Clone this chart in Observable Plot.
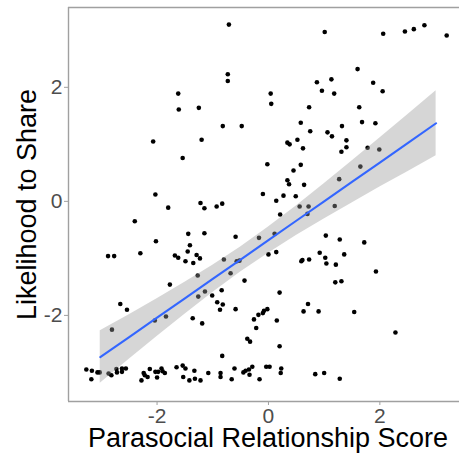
<!DOCTYPE html>
<html>
<head>
<meta charset="utf-8">
<script src="https://cdn.jsdelivr.net/npm/d3@7"></script>
<script src="https://cdn.jsdelivr.net/npm/@observablehq/plot@0.6"></script>
<style>
  html, body { margin: 0; padding: 0; background: white; }
</style>
</head>
<body>
<div id="chart"></div>
<script>
// Parasocial Relationship Score (x) for each respondent
const parasocialScore = [
  -0.71,-0.73,-0.73,-1.62,-1.61,-1.25,-0.82,-0.48,-2.07,-1.20,-1.54,-2.03,
  1.01,2.06,2.45,2.61,2.80,3.20,1.60,0.87,1.13,1.88,0.96,1.18,2.05,0.04,0.05,
  0.73,1.63,0.58,1.68,1.92,0.75,1.32,1.06,1.14,0.52,0.34,0.38,0.62,1.40,1.40,
  1.31,1.78,1.99,-0.02,0.58,0.45,1.65,0.34,0.37,0.64,1.27,-0.10,0.27,0.49,0.14,
  -1.80,-1.22,-1.15,-0.93,-0.83,-2.40,-1.44,-1.15,-2.02,-0.59,-1.41,-1.45,-1.29,
  -1.23,-1.68,-1.62,-1.49,-1.35,-2.88,-2.77,-2.30,-0.80,-0.57,-0.52,-0.17,-1.27,
  -0.68,-0.43,-1.77,-0.84,-1.14,-1.01,-1.26,-0.92,-0.82,-0.87,-0.59,-2.66,-2.54,
  -1.84,-2.04,-1.36,-1.19,-0.26,-0.18,-0.22,-2.81,-0.38,-0.33,-0.83,
  -3.27,-3.17,-3.18,-3.07,-3.03,-2.87,-2.82,-2.73,-2.72,-2.63,-2.63,-2.56,-2.28,
  -2.24,-2.22,-2.17,-2.13,-2.03,-2.00,-1.98,-1.92,-1.90,-1.86,-1.65,-1.54,-1.53,
  -1.49,-1.42,-1.33,-1.32,-1.22,-1.08,-0.86,-0.86,-0.66,-0.61,-0.45,-0.41,-0.35,
  -0.34,-0.29,-0.16,
  0.56,0.72,1.19,0.70,0.21,0.11,1.03,1.28,1.72,0.00,0.14,0.92,1.36,1.02,0.59,
  0.61,0.73,1.04,1.21,1.93,0.20,1.20,1.31,-0.02,-0.08,-0.10,0.71,0.63,0.90,1.54,
  0.15,2.28,0.20,-0.04,0.02,0.23,0.22,0.84,1.00,1.28
];
// Likelihood to Share (y) for each respondent
const likelihoodShare = [
  3.10,2.23,2.11,1.89,1.61,1.64,1.32,1.32,1.05,1.08,0.76,0.12,
  2.97,2.94,2.98,3.02,3.09,2.91,2.32,2.09,2.14,2.08,1.94,1.89,1.93,1.89,1.71,
  1.65,1.65,1.38,1.39,1.37,1.23,1.32,1.21,1.14,1.08,1.03,1.00,0.93,1.07,0.95,
  0.87,0.94,0.91,0.65,0.64,0.54,0.61,0.37,0.30,0.29,0.39,0.13,0.10,0.09,0.01,
  -0.11,-0.03,-0.12,-0.09,-0.04,-0.35,-0.57,-0.56,-0.70,-0.62,-0.77,-0.88,-0.94,
  -1.00,-0.95,-0.99,-1.05,-1.08,-0.96,-0.96,-0.91,-1.02,-1.05,-1.04,-0.64,-1.30,
  -1.26,-1.39,-1.46,-1.56,-1.58,-1.65,-1.67,-1.77,-1.81,-1.90,-1.89,-1.80,-1.90,
  -2.02,-2.09,-2.05,-2.14,-2.07,-1.99,-2.22,-2.25,-2.41,-2.46,-2.71,
  -2.95,-2.97,-3.12,-3.00,-3.00,-3.02,-3.05,-2.94,-3.00,-2.93,-2.99,-2.93,-3.14,
  -3.01,-3.05,-3.08,-2.94,-2.99,-3.09,-2.99,-2.93,-2.98,-3.01,-2.91,-2.88,-3.08,
  -2.93,-3.14,-2.97,-3.11,-3.14,-3.01,-3.01,-3.08,-3.12,-2.93,-3.00,-2.97,-2.95,
  -3.04,-2.90,-3.12,
  -0.09,-0.09,-0.08,-0.22,-0.23,-0.57,-0.60,-0.67,-0.72,-0.93,-0.89,-0.90,-0.93,-0.99,-1.05,
  -1.03,-1.02,-1.09,-1.11,-1.23,-1.60,-1.42,-1.40,-1.89,-1.92,-1.96,-1.80,-1.93,-1.93,-1.94,
  -2.09,-2.30,-2.54,-2.90,-2.90,-2.93,-3.01,-3.03,-3.01,-3.11
];

// Linear fit with 95% confidence band
const fitX  = [-3.02,-2.5,-2,-1.5,-1,-0.5,0,0.5,1,1.5,2,2.5,3.01];
const fitY  = [-2.73,-2.38,-2.04,-1.70,-1.36,-1.02,-0.68,-0.34,0.00,0.34,0.68,1.02,1.37];
const fitLo = [-3.19,-2.77,-2.37,-1.98,-1.60,-1.24,-0.91,-0.60,-0.31,-0.03,0.25,0.52,0.80];
const fitHi = [-2.27,-1.99,-1.71,-1.42,-1.12,-0.80,-0.45,-0.08,0.31,0.71,1.11,1.52,1.94];

const xTicks = [-2, 0, 2];
const yTicks = [-2, 0, 2];
const xTitle = "Parasocial Relationship Score";
const yTitle = "Likelihood to Share";

const points = parasocialScore.map((x, i) => ({x, y: likelihoodShare[i]}));
const smooth = fitX.map((x, i) => ({x, fit: fitY[i], lo: fitLo[i], hi: fitHi[i]}));

const xDomain = [-3.59, 3.43];
const yDomain = [-3.51, 3.40];

const chart = Plot.plot({
  width: 459,
  height: 455,
  marginLeft: 68,
  marginRight: 0,
  marginTop: 7,
  marginBottom: 54,
  style: {fontFamily: "'Liberation Sans', Arial, Helvetica, sans-serif", background: "white"},
  x: {domain: xDomain, axis: null},
  y: {domain: yDomain, axis: null},
  marks: [
    Plot.dot(points, {x: "x", y: "y", r: 2.3, fill: "black", stroke: "none"}),
    Plot.areaY(smooth, {x: "x", y1: "lo", y2: "hi", fill: "#999999", fillOpacity: 0.4}),
    Plot.lineY(smooth, {x: "x", y: "fit", stroke: "#3366FF", strokeWidth: 2.1}),
    Plot.ruleX([xDomain[0]], {stroke: "#a0a0a0", strokeWidth: 1.4}),
    Plot.ruleY(yDomain, {stroke: "#a0a0a0", strokeWidth: 1.4}),
    Plot.axisX(xTicks, {anchor: "bottom", tickSize: 4, tickPadding: 3, stroke: "#a0a0a0", fill: "#4d4d4d", fontSize: 21, label: null, tickFormat: d => d < 0 ? "-" + Math.abs(d) : String(d)}),
    Plot.axisY(yTicks, {anchor: "left", tickSize: 4, tickPadding: 2, stroke: "#a0a0a0", fill: "#4d4d4d", fontSize: 21, label: null, tickFormat: d => d < 0 ? "-" + Math.abs(d) : String(d)}),
    Plot.text([xTitle], {text: d => d, frameAnchor: "bottom", textAnchor: "middle", lineAnchor: "top", dx: 4, dy: 26, fontSize: 27, fill: "black"}),
    Plot.text([yTitle], {text: d => d, frameAnchor: "left", textAnchor: "middle", rotate: -90, lineAnchor: "middle", dx: -41, fontSize: 27, fill: "black"})
  ]
});
document.getElementById("chart").appendChild(chart);
</script>
</body>
</html>
